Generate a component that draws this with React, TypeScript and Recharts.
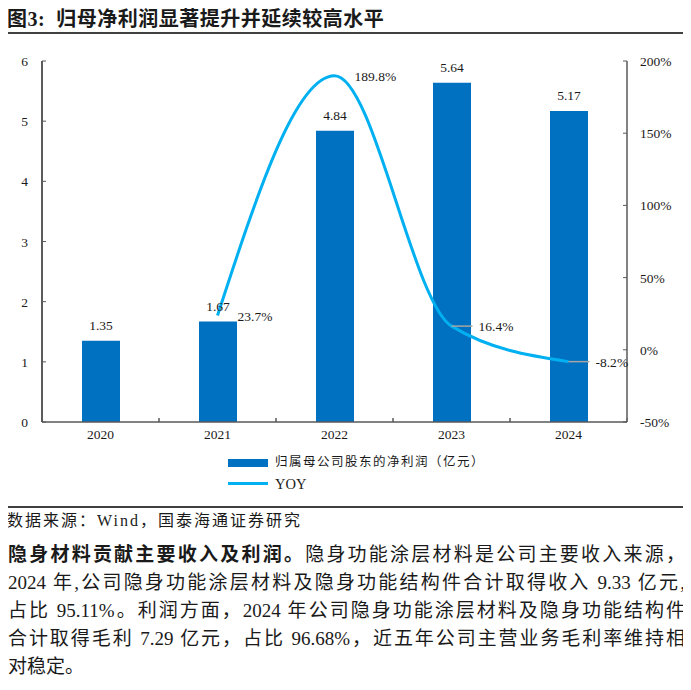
import React from "react";
import { ComposedChart, Bar, Line, XAxis, YAxis, LabelList } from "recharts";

const years = ["2020", "2021", "2022", "2023", "2024"];
const netProfit = [1.35, 1.67, 4.84, 5.64, 5.17];
const yoy: (number | null)[] = [null, 23.7, 189.8, 16.4, -8.2];
const leftTicks = [0, 1, 2, 3, 4, 5, 6];
const rightTicks = [-50, 0, 50, 100, 150, 200];

const paragraphLines = [
  "2024 年,公司隐身功能涂层材料及隐身功能结构件合计取得收入 9.33 亿元,",
  "占比 95.11%。利润方面，2024 年公司隐身功能涂层材料及隐身功能结构件",
  "合计取得毛利 7.29 亿元，占比 96.68%，近五年公司主营业务毛利率维持相",
];

const data = years.map((year, i) => ({ year, profit: netProfit[i], yoy: yoy[i] }));

const BAR = "#0070C0";
const LINE = "#00B0F0";
const AXIS = "#595959";
const TEXT = "#1a1a1a";
const SERIF = '"Liberation Serif", "Noto Sans CJK SC", serif';
const svgText = { fontFamily: SERIF, fontSize: 13.5 };

const LeftTick = (props: any) => {
  const { x, y, payload } = props;
  return (
    <g>
      <line x1={x + 8} x2={x + 12} y1={y} y2={y} stroke={AXIS} />
      <text x={x - 6} y={y} dy={5} textAnchor="end" fill={TEXT} style={svgText}>
        {payload.value}
      </text>
    </g>
  );
};

const RightTick = (props: any) => {
  const { x, y, payload } = props;
  return (
    <g>
      <line x1={x - 8} x2={x - 12} y1={y} y2={y} stroke={AXIS} />
      <text x={x + 5} y={y} dy={5} textAnchor="start" fill={TEXT} style={svgText}>
        {payload.value}%
      </text>
    </g>
  );
};

const BottomTick = (props: any) => {
  const { x, y, payload, visibleTicksCount } = props;
  const band = 585 / (visibleTicksCount || 5);
  return (
    <g>
      <line x1={x - band / 2} x2={x - band / 2} y1={y - 8} y2={y - 12} stroke={AXIS} />
      <line x1={x + band / 2} x2={x + band / 2} y1={y - 8} y2={y - 12} stroke={AXIS} />
      <text x={x} y={y} dy={9} textAnchor="middle" fill={TEXT} style={svgText}>
        {payload.value}
      </text>
    </g>
  );
};

const BarValue = (props: any) => {
  const { x, y, width, value } = props;
  return (
    <text x={x + width / 2} y={y - 16} dy={5} textAnchor="middle" fill={TEXT} style={svgText}>
      {Number(value).toFixed(2)}
    </text>
  );
};

const YoyLabel = (props: any) => {
  const { x, y, value, index } = props;
  if (value == null) return null;
  const leader = index >= 3;
  const textX = leader ? x + 27 : x + 20;
  return (
    <g>
      {leader && <line x1={x} x2={x + 21} y1={y} y2={y} stroke="#a6a6a6" strokeWidth={1.5} />}
      <text x={textX} y={y} dy={5} fill={TEXT} style={svgText}>
        {value.toFixed(1)}%
      </text>
    </g>
  );
};

export default function App() {
  return (
    <div
      style={{
        position: "relative",
        width: 691,
        height: 690,
        margin: -8,
        background: "#fff",
        overflow: "hidden",
        fontFamily: SERIF,
        color: TEXT,
      }}
    >
      <div
        style={{
          position: "absolute",
          left: 7,
          top: 7,
          fontSize: 20,
          lineHeight: "24px",
          fontWeight: 700,
          letterSpacing: 0.5,
          whiteSpace: "nowrap",
        }}
      >
        图3:&nbsp;&nbsp;归母净利润显著提升并延续较高水平
      </div>
      <div style={{ position: "absolute", left: 5, right: 0, top: 32, height: 2, background: "#404040" }} />

      <div style={{ position: "absolute", left: 0, top: 0 }}>
        <ComposedChart width={691} height={452} data={data} margin={{ top: 61, right: 14, bottom: 0, left: 12 }}>
          <XAxis
            dataKey="year"
            height={30}
            axisLine={{ stroke: AXIS, strokeWidth: 1.5 }}
            tickLine={false}
            tick={<BottomTick />}
            interval={0}
          />
          <YAxis
            yAxisId="left"
            width={30}
            domain={[0, 6]}
            ticks={leftTicks}
            axisLine={{ stroke: "#262626", strokeWidth: 1.5 }}
            tickLine={false}
            tick={<LeftTick />}
          />
          <YAxis
            yAxisId="right"
            orientation="right"
            width={50}
            domain={[-50, 200]}
            ticks={rightTicks}
            axisLine={{ stroke: AXIS, strokeWidth: 1.5 }}
            tickLine={false}
            tick={<RightTick />}
          />
          <Bar yAxisId="left" dataKey="profit" fill={BAR} barSize={38} isAnimationActive={false}>
            <LabelList dataKey="profit" content={<BarValue />} />
          </Bar>
          <Line
            yAxisId="right"
            type="monotone"
            dataKey="yoy"
            stroke={LINE}
            strokeWidth={3}
            dot={false}
            activeDot={false}
            isAnimationActive={false}
            label={<YoyLabel />}
          />
        </ComposedChart>
      </div>

      <div style={{ position: "absolute", left: 228, top: 459, width: 40, height: 8, background: BAR }} />
      <div
        style={{
          position: "absolute",
          left: 275,
          top: 453,
          fontSize: 12.5,
          letterSpacing: 1.5,
          whiteSpace: "nowrap",
          lineHeight: "18px",
        }}
      >
        归属母公司股东的净利润（亿元）
      </div>
      <div style={{ position: "absolute", left: 228, top: 482, width: 40, height: 3, background: LINE }} />
      <div style={{ position: "absolute", left: 275, top: 475, fontSize: 14.5, whiteSpace: "nowrap", lineHeight: "18px" }}>
        YOY
      </div>

      <div style={{ position: "absolute", left: 5, right: 0, top: 506, height: 1.5, background: "#404040" }} />
      <div
        style={{
          position: "absolute",
          left: 7,
          top: 510,
          fontSize: 16,
          letterSpacing: 2,
          whiteSpace: "nowrap",
          lineHeight: "22px",
        }}
      >
        数据来源：Wind，国泰海通证券研究
      </div>

      <div style={{ position: "absolute", left: 8, top: 541, width: 677, fontSize: 19, lineHeight: "28px" }}>
        <div style={{ textAlign: "justify", textAlignLast: "justify", whiteSpace: "nowrap" as any }}>
          <span style={{ fontWeight: 700 }}>隐身材料贡献主要收入及利润。</span>隐身功能涂层材料是公司主要收入来源，
        </div>
        {paragraphLines.map((line) => (
          <div key={line} style={{ textAlign: "justify", textAlignLast: "justify" }}>
            {line}
          </div>
        ))}
        <div>对稳定。</div>
      </div>
    </div>
  );
}
